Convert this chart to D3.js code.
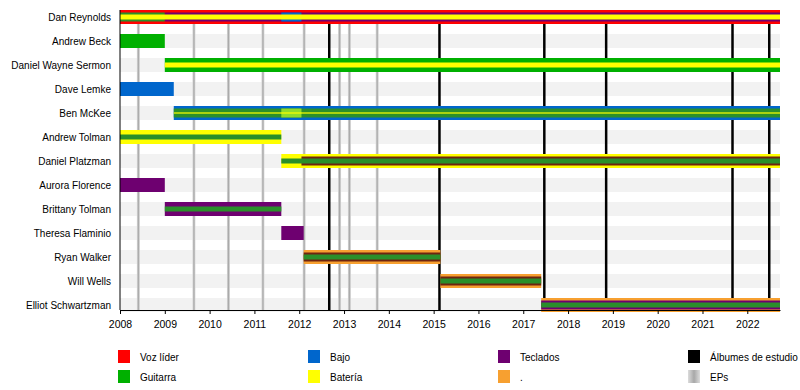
<!DOCTYPE html>
<html><head><meta charset="utf-8">
<script src="https://cdn.jsdelivr.net/npm/d3@7"></script>
<style>
body{margin:0;background:#fff;}
svg{font-family:"Liberation Sans",Arial,sans-serif;}
</style></head>
<body>
<svg id="chart" width="800" height="390"></svg>
<script>
const START = 2008, END = 2022.73;
const members = ["Dan Reynolds","Andrew Beck","Daniel Wayne Sermon","Dave Lemke","Ben McKee","Andrew Tolman","Daniel Platzman","Aurora Florence","Brittany Tolman","Theresa Flaminio","Ryan Walker","Will Wells","Elliot Schwartzman"];
const years = [2008,2009,2010,2011,2012,2013,2014,2015,2016,2017,2018,2019,2020,2021,2022];
const albums = [2012.67, 2015.13, 2017.47, 2018.85, 2021.67, 2022.49];
const eps = [2008.41, 2009.65, 2010.42, 2011.19, 2012.11, 2012.9, 2013.12, 2013.74];
// member, start, end, role, layer
const bars = [
  ["Dan Reynolds", START, END, "voz", "outer"],
  ["Dan Reynolds", START, 2009.0, "guitarra2", "middle"],
  ["Dan Reynolds", 2009.0, END, "teclados", "middle"],
  ["Dan Reynolds", 2011.6, 2012.05, "bajo", "middle"],
  ["Dan Reynolds", START, END, "bateria", "inner"],
  ["Andrew Beck", START, 2009.0, "guitarra", "outer"],
  ["Daniel Wayne Sermon", 2009.0, END, "guitarra", "outer"],
  ["Daniel Wayne Sermon", 2009.0, END, "bateria", "inner"],
  ["Dave Lemke", START, 2009.2, "bajo", "outer"],
  ["Ben McKee", 2009.2, END, "bajo", "outer"],
  ["Ben McKee", 2009.2, END, "guitarra2", "middle"],
  ["Ben McKee", 2011.6, 2012.05, "guitarra3", "middle"],
  ["Ben McKee", 2009.2, END, "bateria", "thin"],
  ["Andrew Tolman", START, 2011.6, "bateria", "outer"],
  ["Andrew Tolman", START, 2011.6, "guitarra2", "inner"],
  ["Daniel Platzman", 2011.6, END, "bateria", "outer"],
  ["Daniel Platzman", 2012.05, END, "voz2", "middle"],
  ["Daniel Platzman", 2011.6, END, "guitarra2", "inner"],
  ["Aurora Florence", START, 2009.0, "teclados", "outer"],
  ["Brittany Tolman", 2009.0, 2011.6, "teclados", "outer"],
  ["Brittany Tolman", 2009.0, 2011.6, "guitarra2", "inner"],
  ["Theresa Flaminio", 2011.6, 2012.1, "teclados", "outer"],
  ["Ryan Walker", 2012.1, 2015.15, "otro", "outer"],
  ["Ryan Walker", 2012.1, 2015.15, "voz2", "middle"],
  ["Ryan Walker", 2012.1, 2015.15, "guitarra2", "inner"],
  ["Will Wells", 2015.15, 2017.4, "otro", "outer"],
  ["Will Wells", 2015.15, 2017.4, "voz2", "middle"],
  ["Will Wells", 2015.15, 2017.4, "guitarra2", "inner"],
  ["Elliot Schwartzman", 2017.4, END, "otro", "outer"],
  ["Elliot Schwartzman", 2017.4, END, "teclados", "middle"],
  ["Elliot Schwartzman", 2017.4, END, "guitarra2", "inner"]
].map(([member,start,end,role,layer])=>({member,start,end,role,layer}));
const legendItems = [
  ["Voz líder","voz"],["Guitarra","guitarra"],["Bajo","bajo"],["Batería","bateria"],
  ["Teclados","teclados"],[".","otro"],["Álbumes de estudio","album"],["EPs","ep"]
];

const colors = {voz:"#ff0000", voz2:"#6e2410", guitarra:"#00b000", guitarra2:"#2a8f2a", guitarra3:"#8fdc2a",
  bajo:"#0066cc", bateria:"#ffff00", teclados:"#6e0070", otro:"#f7a030", album:"#000000"};
const layerH = {outer:14, middle:9, inner:5, thin:1.2};

const svg = d3.select("#chart");
const defs = svg.append("defs");
const g1 = defs.append("linearGradient").attr("id","epgrad").attr("x1","0%").attr("x2","100%");
g1.append("stop").attr("offset","0%").attr("stop-color","#dcdcdc");
g1.append("stop").attr("offset","50%").attr("stop-color","#a8a8a8");
g1.append("stop").attr("offset","100%").attr("stop-color","#dcdcdc");

const x = d3.scaleLinear().domain([START, END]).range([120, 780]);
const y = d3.scalePoint().domain(members).range([17, 305]);
const yTop = 10, yBottom = 310;

// row bands
svg.append("g").selectAll("rect").data(members).join("rect")
  .attr("x", x(START)).attr("width", x(END)-x(START))
  .attr("y", d=>y(d)-7).attr("height", 14).attr("fill","#f2f2f2");

// EP lines
svg.append("g").selectAll("rect").data(eps).join("rect")
  .attr("x", d=>x(d)-1.5).attr("width",3).attr("y",yTop).attr("height",yBottom-yTop)
  .attr("fill","url(#epgrad)");
// album lines
svg.append("g").selectAll("line").data(albums).join("line")
  .attr("x1",d=>x(d)).attr("x2",d=>x(d)).attr("y1",yTop).attr("y2",yBottom)
  .attr("stroke","#000").attr("stroke-width",2.5);

// bars
const order = {outer:0, middle:1, inner:2, thin:3};
const sorted = bars.slice().sort((a,b)=>order[a.layer]-order[b.layer]);
svg.append("g").selectAll("rect").data(sorted).join("rect")
  .attr("x", d=>x(d.start)).attr("width", d=>x(d.end)-x(d.start))
  .attr("y", d=>y(d.member)-layerH[d.layer]/2).attr("height", d=>layerH[d.layer])
  .attr("fill", d=>colors[d.role]);

// axes
const xAxis = d3.axisBottom(x).tickValues(years).tickFormat(d3.format("d")).tickSize(4).tickSizeOuter(0);
const gx = svg.append("g").attr("transform",`translate(0,${yBottom})`).call(xAxis);
gx.select(".domain").attr("stroke","#000");
gx.selectAll("text").attr("font-size","10.5px").attr("fill","#000").attr("dy","1.05em").attr("font-family","Liberation Sans, Arial, sans-serif");
gx.selectAll(".tick line").attr("stroke","#000");

const yAxis = d3.axisLeft(y).tickSize(0).tickPadding(9);
const gy = svg.append("g").attr("transform",`translate(${x(START)},0)`).call(yAxis);
gy.select(".domain").remove();
gy.selectAll("text").attr("font-size","10px").attr("fill","#000").attr("font-family","Liberation Sans, Arial, sans-serif");
svg.append("line").attr("x1",x(START)).attr("x2",x(START)).attr("y1",yTop).attr("y2",yBottom).attr("stroke","#000");

// legend
const lg = svg.append("g").selectAll("g").data(legendItems).join("g")
  .attr("transform",(d,i)=>`translate(${118+Math.floor(i/2)*190},${350+(i%2)*20})`);
lg.append("rect").attr("width",12).attr("height",13)
  .attr("fill",d=>d[1]==="ep"?"url(#epgrad)":colors[d[1]]);
lg.append("text").attr("x",22).attr("y",10.5).attr("font-size","10px").attr("fill","#000").text(d=>d[0]);
</script>
</body></html>
